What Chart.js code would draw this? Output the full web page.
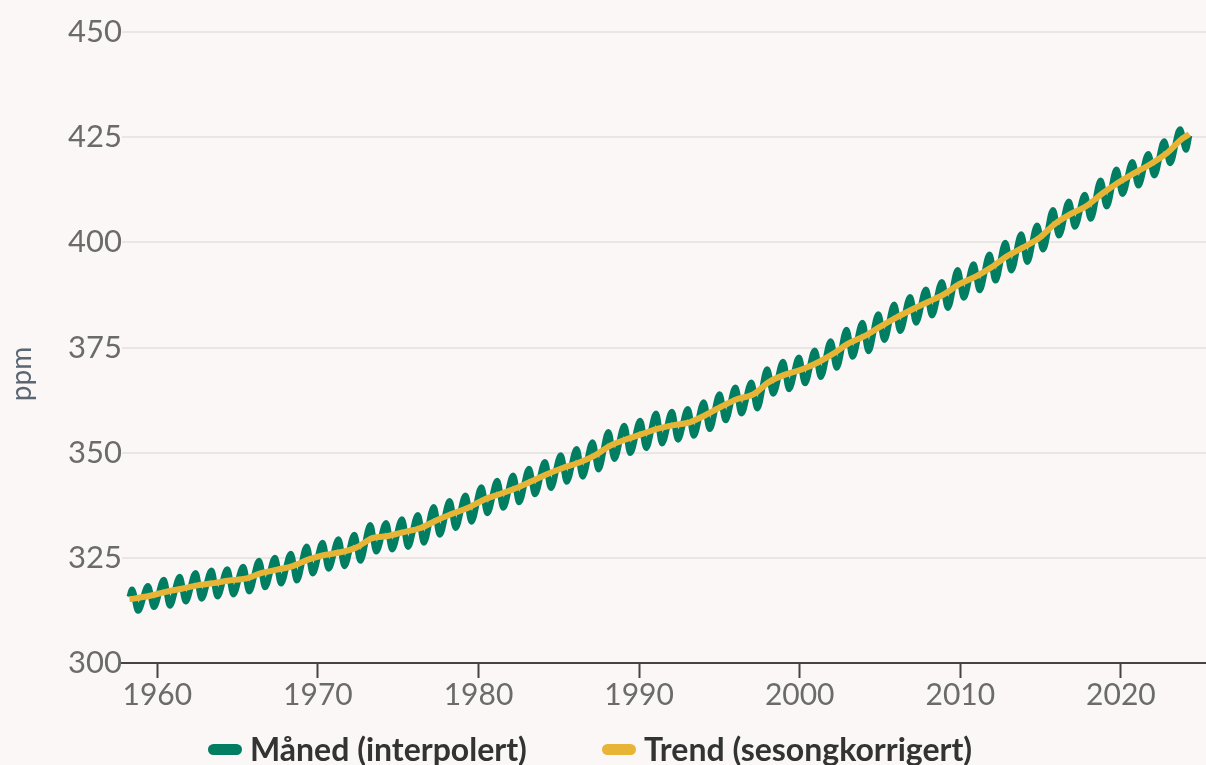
<!DOCTYPE html>
<html>
<head>
<meta charset="utf-8">
<script src="https://cdn.jsdelivr.net/npm/chart.js@4.4.1/dist/chart.umd.min.js"></script>
<style>
  html, body { margin: 0; padding: 0; background: #faf7f6; overflow: hidden; }
  #wrap { position: relative; width: 1206px; height: 765px; }
  #legend {
    position: absolute; left: 208px; top: 731px; height: 36px;
    display: flex; align-items: center;
    font-family: Lato, sans-serif; font-weight: 700; font-size: 32px; line-height: 36px; color: #333;
  }
  .item { display: flex; align-items: center; margin-right: 75px; white-space: nowrap; }
  .swatch { width: 34px; height: 11px; border-radius: 6px; margin-right: 8px; }
</style>
</head>
<body>
<div id="wrap">
  <canvas id="co2" width="1206" height="765"></canvas>
  <div id="legend"></div>
</div>
<script>
// Mauna Loa CO2 (ppm)
const firstYear = 1958;
// May maximum each year, 1958-2024
const mayPeaks = [
  317.5, 318.3, 319.8, 320.5, 321.4, 322.0, 322.3, 322.9, 324.3, 325.0,
  326.0, 327.7, 328.6, 329.4, 330.5, 332.8, 333.3, 334.2, 335.2, 337.1,
  338.5, 339.8, 341.8, 343.3, 344.6, 346.2, 347.8, 349.4, 350.9, 352.5,
  354.9, 356.4, 357.6, 359.3, 359.7, 360.4, 362.0, 363.9, 365.5, 366.7,
  369.8, 371.6, 372.6, 374.3, 376.5, 379.2, 380.9, 382.9, 385.2, 387.0,
  388.8, 390.6, 393.4, 394.8, 397.1, 399.9, 401.9, 404.0, 407.7, 409.7,
  411.3, 414.7, 417.3, 419.1, 421.0, 424.0, 426.9
];
// autumn minimum (Sep/Oct) each year, 1958-2024
const autumnLows = [
  312.4, 313.3, 313.6, 314.6, 315.3, 315.8, 316.3, 317.0, 318.0, 318.9,
  319.6, 321.3, 322.4, 323.0, 324.3, 326.5, 327.0, 327.6, 328.6, 330.5,
  332.1, 333.6, 335.6, 336.9, 338.2, 340.1, 341.6, 343.1, 344.3, 346.0,
  348.5, 349.9, 351.1, 352.2, 353.1, 354.0, 355.6, 357.7, 359.3, 360.5,
  364.0, 365.1, 366.5, 368.0, 370.2, 372.8, 374.1, 376.8, 378.9, 380.9,
  382.6, 384.4, 386.8, 388.6, 390.9, 393.3, 395.3, 398.3, 401.6, 403.7,
  405.6, 408.5, 411.5, 413.5, 415.9, 418.8, 422.0
];
const firstMonth = { x: 1958.21, y: 315.7 };  // mars 1958
const lastMonth = { x: 2024.96, y: 425.4 };   // des. 2024
// seasonally corrected trend, yearly
const trendValues = [
  315.3, 315.98, 316.91, 317.64, 318.45, 318.99, 319.62, 320.04, 321.37, 322.18,
  323.05, 324.62, 325.68, 326.32, 327.46, 329.68, 330.19, 331.13, 332.03, 333.84,
  335.41, 336.84, 338.76, 340.12, 341.48, 343.15, 344.87, 346.35, 347.61, 349.31,
  351.69, 353.20, 354.45, 355.70, 356.54, 357.21, 358.96, 360.97, 362.74, 363.88,
  366.84, 368.54, 369.71, 371.32, 373.45, 375.98, 377.70, 379.98, 382.09, 384.02,
  385.83, 387.64, 390.10, 391.85, 394.06, 396.74, 398.81, 401.01, 404.41, 406.76,
  408.72, 411.66, 414.24, 416.45, 418.56, 421.08, 424.61
];
const trendStart = { x: 1958.21, y: 315.2 };
const trendEnd = { x: 2024.96, y: 425.7 };

const xTicks = [1960, 1970, 1980, 1990, 2000, 2010, 2020];
const yTicks = [300, 325, 350, 375, 400, 425, 450];

const green = '#017e62';
const yellow = '#e8b436';

// build point lists
const monthly = [firstMonth];
mayPeaks.forEach((v, i) => {
  const yr = firstYear + i;
  monthly.push({ x: yr + 0.375, y: v });
  monthly.push({ x: yr + 0.75, y: autumnLows[i] });
});
monthly.push(lastMonth);

const trend = [trendStart];
trendValues.forEach((v, i) => trend.push({ x: firstYear + i + 0.5, y: v }));
trend.push(trendEnd);

const yTitle = {
  id: 'yTitle',
  afterDraw(chart) {
    const ctx = chart.ctx;
    ctx.save();
    ctx.translate(22, 374);
    ctx.rotate(-Math.PI / 2);
    ctx.font = '28px Lato, sans-serif';
    ctx.fillStyle = '#5b6673';
    ctx.textAlign = 'center';
    ctx.textBaseline = 'middle';
    ctx.fillText('ppm', 0, 0);
    ctx.restore();
  }
};

const chart = new Chart(document.getElementById('co2').getContext('2d'), {
  type: 'line',
  data: {
    datasets: [
      {
        label: 'Måned (interpolert)',
        data: monthly,
        xAxisID: 'xData',
        borderColor: green,
        borderWidth: 6,
        pointRadius: 0,
        cubicInterpolationMode: 'monotone',
        order: 1
      },
      {
        label: 'Trend (sesongkorrigert)',
        data: trend,
        xAxisID: 'xData',
        borderColor: yellow,
        borderWidth: 6,
        pointRadius: 0,
        tension: 0.3,
        order: 0
      }
    ]
  },
  options: {
    responsive: false,
    animation: false,
    layout: { padding: { top: 32, left: 0, right: 0, bottom: 0 } },
    plugins: {
      legend: { display: false },
      tooltip: { enabled: false }
    },
    scales: {
      xData: {
        type: 'linear',
        display: false,
        min: 1957.74,
        max: 2026.01
      },
      x: {
        type: 'linear',
        position: 'bottom',
        min: 1957.8,
        max: 2025.3,
        afterBuildTicks: (axis) => { axis.ticks = xTicks.map(v => ({ value: v })); },
        afterFit: (axis) => { axis.height = 102; },
        grid: { drawOnChartArea: false, drawTicks: true, tickLength: 15, tickColor: '#444', tickWidth: 2 },
        border: { display: true, color: '#444', width: 2 },
        ticks: {
          padding: -1,
          color: '#6b6b6b',
          font: { family: 'Lato', size: 30 },
          callback: (v) => String(v)
        }
      },
      y: {
        min: 300,
        max: 450,
        afterBuildTicks: (axis) => { axis.ticks = yTicks.map(v => ({ value: v })); },
        afterFit: (axis) => { axis.width = 122; },
        grid: {
          drawTicks: false,
          lineWidth: 2,
          color: (c) => c.tick && c.tick.value === 300 ? 'rgba(0,0,0,0)' : '#e9e6e4'
        },
        border: { display: false },
        ticks: {
          padding: 0,
          color: '#6b6b6b',
          font: { family: 'Lato', size: 31 },
          callback: (v) => String(v)
        }
      }
    }
  },
  plugins: [yTitle]
});

// legend in html, built from the datasets
const legend = document.getElementById('legend');
chart.data.datasets.forEach(ds => {
  const item = document.createElement('div');
  item.className = 'item';
  const sw = document.createElement('span');
  sw.className = 'swatch';
  sw.style.background = ds.borderColor;
  const txt = document.createElement('span');
  txt.textContent = ds.label;
  item.appendChild(sw);
  item.appendChild(txt);
  legend.appendChild(item);
});
</script>
</body>
</html>
